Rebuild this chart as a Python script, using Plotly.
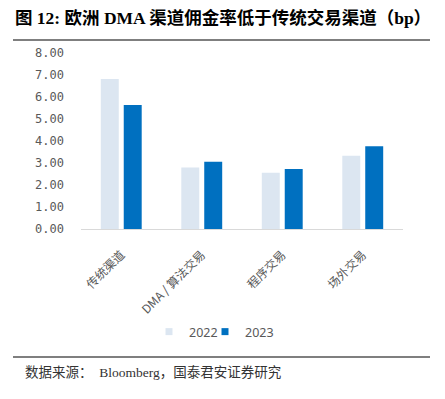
import plotly.graph_objects as go

categories = ["传统渠道", "DMA / 算法交易", "程序交易", "场外交易"]
series_names = ["2022", "2023"]
series_colors = ["#DCE6F1", "#0070C0"]
values_2022 = [6.82, 2.79, 2.56, 3.33]
values_2023 = [5.64, 3.06, 2.73, 3.76]
y_ticks = [0, 1, 2, 3, 4, 5, 6, 7, 8]
y_tick_labels = ["%.2f" % v for v in y_ticks]

W, H = 445, 399
L, R, T, B = 81, 42, 53, 170
ph = H - T - B

def py(pix):
    return (H - B - pix) / ph

def px(pix):
    return (pix - L) / (W - L - R)

fig = go.Figure()
for name, vals, col in zip(series_names, [values_2022, values_2023], series_colors):
    fig.add_trace(go.Bar(name=name, x=categories, y=vals, showlegend=False,
                         marker=dict(color=col, line=dict(width=0))))
# legend entries (small square symbols like the reference)
for i, (name, col) in enumerate(zip(series_names, series_colors)):
    fig.add_trace(go.Scatter(name=name, x=[None], y=[None], mode="markers",
                             marker=dict(symbol="square", size=7, color=col),
                             legend="legend" if i == 0 else "legend2",
                             hoverinfo="skip"))

legend_font = dict(family="Noto Sans, sans-serif", size=12.5, color="#595959")
fig.update_layout(
    width=W, height=H,
    margin=dict(l=L, r=R, t=T, b=B, autoexpand=False),
    paper_bgcolor="white", plot_bgcolor="white",
    barmode="group", bargap=0.43, bargroupgap=0.217,
    showlegend=True,
    legend=dict(orientation="h", x=px(149), xanchor="left", y=py(332), yanchor="middle",
                font=legend_font, itemwidth=30, bgcolor="rgba(0,0,0,0)"),
    legend2=dict(orientation="h", x=px(205), xanchor="left", y=py(332), yanchor="middle",
                 font=legend_font, itemwidth=30, bgcolor="rgba(0,0,0,0)"),
    xaxis=dict(showgrid=False, showline=True, linecolor="#D9D9D9", linewidth=1,
               tickangle=-45, ticks="", ticklabelstandoff=13,
               tickfont=dict(family="Noto Sans CJK SC, sans-serif", size=12, color="#595959")),
    yaxis=dict(range=[0, 8], tickvals=y_ticks, ticktext=y_tick_labels,
               showgrid=False, showline=False, zeroline=False, ticks="",
               ticklabelstandoff=16,
               tickfont=dict(family="DejaVu Sans Mono, monospace", size=12, color="#595959")),
    font=dict(family="Noto Sans CJK SC, sans-serif"),
)

fig.add_annotation(text="<b>图 12: 欧洲 DMA 渠道佣金率低于传统交易渠道（bp）</b>",
                   xref="paper", yref="paper", x=px(13), y=py(18),
                   xanchor="left", yanchor="middle", showarrow=False,
                   font=dict(family="Liberation Serif, Noto Sans CJK SC, serif", size=17.5, color="#000000"))
fig.add_annotation(text="数据来源：  Bloomberg，国泰君安证券研究",
                   xref="paper", yref="paper", x=px(23), y=py(372),
                   xanchor="left", yanchor="middle", showarrow=False,
                   font=dict(family="Liberation Serif, Noto Sans CJK SC, serif", size=13.5, color="#333333"))

fig.add_shape(type="line", xref="paper", yref="paper", x0=px(13), x1=px(430), y0=py(40), y1=py(40),
              line=dict(color="#7F7F7F", width=2))
fig.add_shape(type="line", xref="paper", yref="paper", x0=px(13), x1=px(430), y0=py(357), y1=py(357),
              line=dict(color="#7F7F7F", width=2))

fig.write_html("out.html", config={"displayModeBar": False},
               post_script="document.body.style.margin='0';")
